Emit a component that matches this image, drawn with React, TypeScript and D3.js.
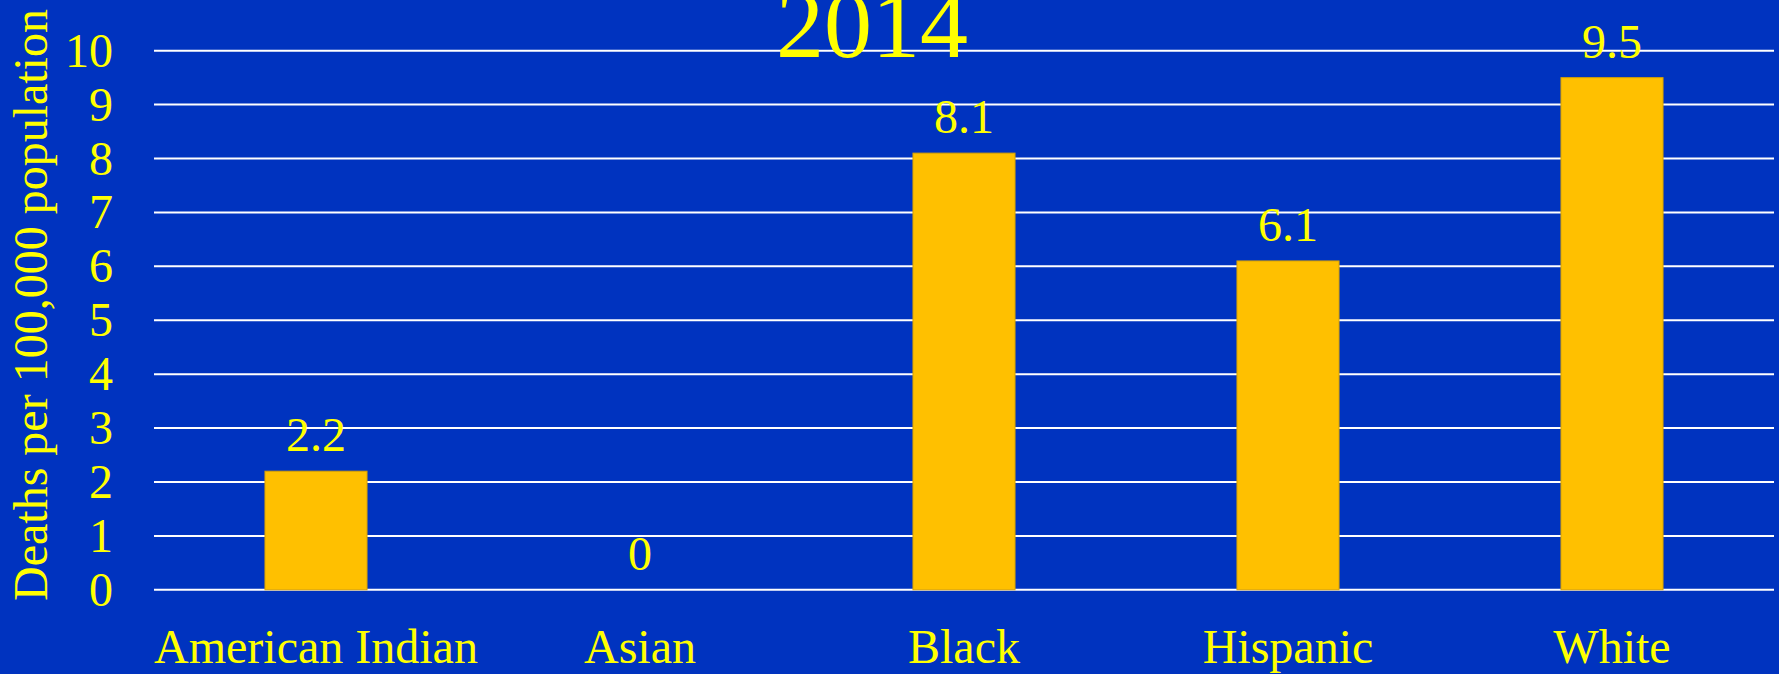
import React from "react";
import * as d3 from "d3";

const title = "2014";
const yAxisTitle = "Deaths per 100,000 population";
const categories = ["American Indian", "Asian", "Black", "Hispanic", "White"];
const values = [2.2, 0, 8.1, 6.1, 9.5];
const yTicks = [0, 1, 2, 3, 4, 5, 6, 7, 8, 9, 10];

const W = 1779;
const H = 674;
const FONT = "'Liberation Serif', 'Times New Roman', serif";
const BG = "#0033BF";
const BAR = "#FFC000";
const TEXT = "#FFFF00";

export default function App() {
  const x = d3
    .scaleBand<string>()
    .domain(categories)
    .range([154, 1774])
    .paddingInner(0.685)
    .paddingOuter(0.3425);
  const y = d3.scaleLinear().domain([0, 10]).range([589.8, 50.7]);

  return (
    <svg
      width={W}
      height={H}
      style={{ position: "absolute", left: 0, top: 0, display: "block" }}
    >
      <rect x={0} y={0} width={W} height={H} fill={BG} />
      {yTicks.map((t) => (
        <g key={t}>
          <line x1={154} x2={1774} y1={y(t)} y2={y(t)} stroke="#FFFFFF" strokeWidth={2} />
          <text
            x={113}
            y={y(t) + 16}
            textAnchor="end"
            fontFamily={FONT}
            fontSize={48}
            fill={TEXT}
          >
            {t}
          </text>
        </g>
      ))}
      {categories.map((c, i) => (
        <g key={c}>
          <rect
            x={x(c)}
            y={y(values[i])}
            width={x.bandwidth()}
            height={y(0) - y(values[i])}
            fill={BAR}
            stroke="#D9A200"
            strokeWidth={values[i] > 0 ? 1 : 0}
          />
          <text
            x={(x(c) as number) + x.bandwidth() / 2}
            y={y(values[i]) - 20}
            textAnchor="middle"
            fontFamily={FONT}
            fontSize={48}
            fill={TEXT}
          >
            {values[i]}
          </text>
          <text
            x={(x(c) as number) + x.bandwidth() / 2}
            y={663}
            textAnchor="middle"
            fontFamily={FONT}
            fontSize={48}
            fill={TEXT}
          >
            {c}
          </text>
        </g>
      ))}
      <text
        transform={`translate(47,305) rotate(-90)`}
        textAnchor="middle"
        fontFamily={FONT}
        fontSize={48}
        fill={TEXT}
      >
        {yAxisTitle}
      </text>
      <text
        x={872}
        y={57}
        textAnchor="middle"
        fontFamily={FONT}
        fontSize={96}
        fill={TEXT}
      >
        {title}
      </text>
    </svg>
  );
}
